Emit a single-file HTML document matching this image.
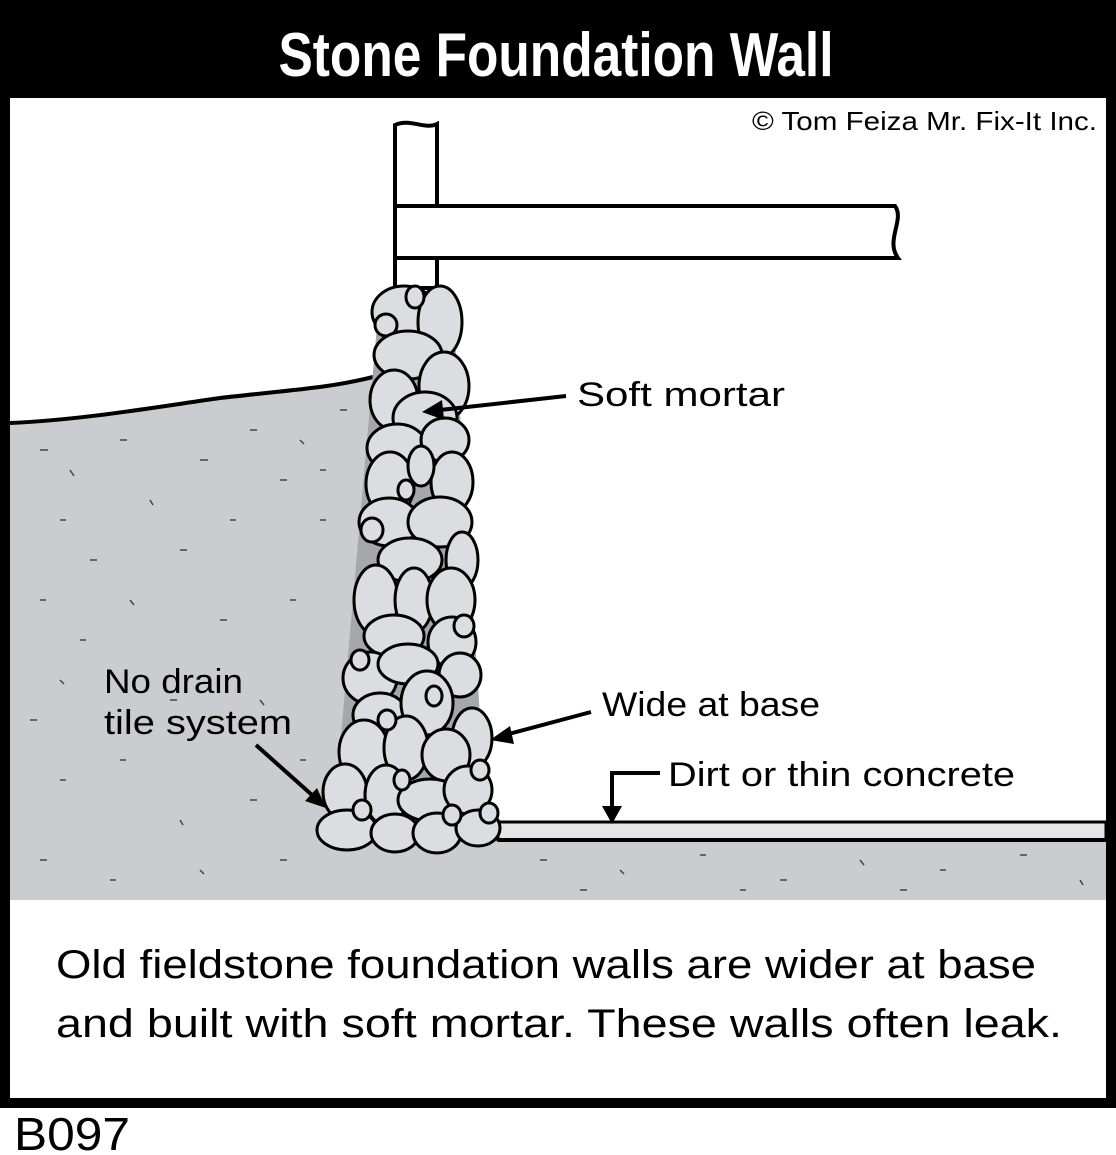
<!DOCTYPE html>
<html><head><meta charset="utf-8"><style>
html,body{margin:0;padding:0;background:#fff;width:1116px;height:1155px;overflow:hidden}
svg{display:block}
text{font-family:"Liberation Sans",sans-serif}
</style></head><body>
<svg width="1116" height="1155" viewBox="0 0 1116 1155" xmlns="http://www.w3.org/2000/svg">
<rect x="0" y="0" width="1116" height="1108" fill="#000"/>
<rect x="10" y="98" width="1096" height="1000" fill="#fff"/>
<text x="556" y="76" text-anchor="middle" fill="#fff" font-size="62" font-weight="bold" textLength="555" lengthAdjust="spacingAndGlyphs">Stone Foundation Wall</text>
<text x="1097" y="130" text-anchor="end" font-size="26" textLength="345" lengthAdjust="spacingAndGlyphs">© Tom Feiza Mr. Fix-It Inc.</text>

<path d="M10,423 C80,420 150,408 220,398 C290,390 330,388 373,377 L400,377 L400,900 L10,900 Z" fill="#cbcccf"/>
<path d="M10,423 C80,420 150,408 220,398 C290,390 330,388 373,377" fill="none" stroke="#000" stroke-width="4"/>
<rect x="320" y="840" width="786" height="60" fill="#cbcccf"/>
<rect x="498" y="822" width="608" height="18" fill="#e4e5e7" stroke="#000" stroke-width="3"/>
<line x1="498" y1="840" x2="1106" y2="840" stroke="#000" stroke-width="4"/>

<g stroke="#444" stroke-width="1.5">
<path d="M40,450h8M70,470l4,6M120,440h7M60,520h6M150,500l3,5M200,460h8M250,430h7M300,440l4,4M90,560h7M40,600h6M130,600l4,5M180,550h7M230,520h6M280,480h7M320,520h6M60,680l4,4M30,720h7M120,760h6M180,820l3,5M250,800h7M300,760h6M40,860h7M110,880h6M200,870l4,4M280,860h7M80,640h6M220,620h7M290,600h6M260,700l4,5M540,860h7M620,870l4,4M700,855h6M780,880h7M860,860l4,5M940,870h6M1020,855h7M1080,880l3,5M580,890h7M740,890h6M900,890h7M340,410h7M320,470h6M170,700h7M60,780h6"/>
</g>

<path d="M395,125 C410,118 425,130 437,124 L437,288 L395,288 Z" fill="#fff" stroke="#000" stroke-width="4"/>
<path d="M395,206 L895,206 C905,220 885,240 898,258 L395,258 Z" fill="#fff" stroke="#000" stroke-width="4"/>

<path d="M380,292 L452,292 L488,838 L332,838 Z" fill="#a6a7aa"/>
<g fill="#dcdde0" stroke="#000" stroke-width="3">
<ellipse cx="404" cy="312" rx="32" ry="26"/>
<ellipse cx="440" cy="322" rx="22" ry="36"/>
<ellipse cx="386" cy="325" rx="11" ry="11"/>
<ellipse cx="415" cy="297" rx="9" ry="11"/>
<ellipse cx="408" cy="355" rx="34" ry="24"/>
<ellipse cx="394" cy="400" rx="24" ry="30"/>
<ellipse cx="444" cy="386" rx="25" ry="34"/>
<ellipse cx="425" cy="418" rx="32" ry="26"/>
<ellipse cx="397" cy="448" rx="30" ry="24"/>
<ellipse cx="445" cy="440" rx="24" ry="22"/>
<ellipse cx="390" cy="484" rx="24" ry="32"/>
<ellipse cx="452" cy="482" rx="21" ry="30"/>
<ellipse cx="421" cy="466" rx="13" ry="20"/>
<ellipse cx="389" cy="522" rx="30" ry="24"/>
<ellipse cx="440" cy="522" rx="32" ry="25"/>
<ellipse cx="406" cy="490" rx="8" ry="10"/>
<ellipse cx="410" cy="560" rx="32" ry="22"/>
<ellipse cx="462" cy="560" rx="16" ry="28"/>
<ellipse cx="372" cy="530" rx="11" ry="12"/>
<ellipse cx="376" cy="600" rx="22" ry="35"/>
<ellipse cx="414" cy="600" rx="19" ry="32"/>
<ellipse cx="451" cy="600" rx="24" ry="32"/>
<ellipse cx="394" cy="636" rx="30" ry="21"/>
<ellipse cx="452" cy="642" rx="24" ry="25"/>
<ellipse cx="464" cy="626" rx="10" ry="11"/>
<ellipse cx="370" cy="678" rx="27" ry="26"/>
<ellipse cx="408" cy="664" rx="30" ry="20"/>
<ellipse cx="460" cy="675" rx="21" ry="22"/>
<ellipse cx="360" cy="660" rx="9" ry="10"/>
<ellipse cx="380" cy="715" rx="27" ry="22"/>
<ellipse cx="427" cy="703" rx="26" ry="32"/>
<ellipse cx="472" cy="738" rx="20" ry="30"/>
<ellipse cx="434" cy="696" rx="8" ry="10"/>
<ellipse cx="364" cy="752" rx="25" ry="32"/>
<ellipse cx="406" cy="748" rx="22" ry="32"/>
<ellipse cx="446" cy="755" rx="24" ry="26"/>
<ellipse cx="387" cy="720" rx="9" ry="10"/>
<ellipse cx="345" cy="792" rx="22" ry="28"/>
<ellipse cx="386" cy="795" rx="21" ry="30"/>
<ellipse cx="430" cy="800" rx="32" ry="21"/>
<ellipse cx="468" cy="790" rx="24" ry="24"/>
<ellipse cx="402" cy="780" rx="8" ry="10"/>
<ellipse cx="480" cy="770" rx="9" ry="10"/>
<ellipse cx="347" cy="830" rx="30" ry="20"/>
<ellipse cx="395" cy="833" rx="24" ry="19"/>
<ellipse cx="437" cy="833" rx="24" ry="20"/>
<ellipse cx="478" cy="828" rx="22" ry="18"/>
<ellipse cx="362" cy="810" rx="9" ry="10"/>
<ellipse cx="452" cy="815" rx="9" ry="10"/>
<ellipse cx="489" cy="813" rx="9" ry="10"/>
</g>

<g stroke="#000" stroke-width="4" fill="none">
<line x1="566" y1="396" x2="440" y2="410"/>
<line x1="591" y1="712" x2="505" y2="735"/>
<line x1="256" y1="745" x2="312" y2="795"/>
<polyline points="660,773 612,773 612,812"/>
</g>
<g fill="#000">
<polygon points="422,412 442,400 444,420"/>
<polygon points="490,740 510,726 514,744"/>
<polygon points="326,808 305,801 317,788"/>
<polygon points="612,824 602,806 622,806"/>
</g>
<text x="577" y="406" font-size="34" textLength="208" lengthAdjust="spacingAndGlyphs">Soft mortar</text>
<text x="602" y="716" font-size="34" textLength="218" lengthAdjust="spacingAndGlyphs">Wide at base</text>
<text x="668" y="786" font-size="34" textLength="347" lengthAdjust="spacingAndGlyphs">Dirt or thin concrete</text>
<text x="104" y="693" font-size="34" textLength="139" lengthAdjust="spacingAndGlyphs">No drain</text>
<text x="104" y="734" font-size="34" textLength="188" lengthAdjust="spacingAndGlyphs">tile system</text>

<text x="56" y="978" font-size="40" textLength="980" lengthAdjust="spacingAndGlyphs">Old fieldstone foundation walls are wider at base</text>
<text x="56" y="1037" font-size="40" textLength="1006" lengthAdjust="spacingAndGlyphs">and built with soft mortar.  These walls often leak.</text>
<text x="14" y="1150" font-size="46" textLength="116" lengthAdjust="spacingAndGlyphs">B097</text>
</svg>
</body></html>
